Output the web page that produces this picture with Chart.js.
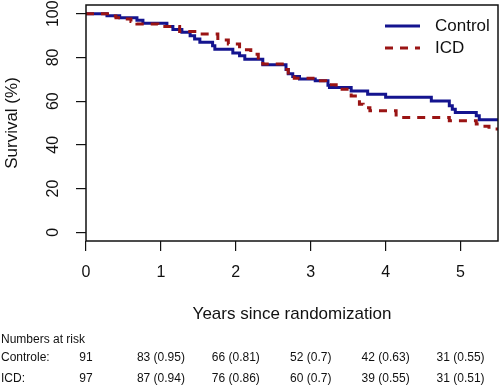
<!DOCTYPE html>
<html>
<head>
<meta charset="utf-8">
<script src="https://cdn.jsdelivr.net/npm/chart.js@4"></script>
<style>
  html, body { margin: 0; padding: 0; background: #fff; }
  #wrap { width: 500px; height: 386px; }
</style>
</head>
<body>
<div id="wrap"><canvas id="km" width="500" height="386"></canvas></div>
<script>
// survival curves, step points (years, survival %)
var controlTimes = [0, 0.28, 0.45, 0.68, 0.76, 1.08, 1.16, 1.28, 1.39, 1.45, 1.52, 1.69, 1.72, 1.96, 2.05, 2.12, 2.36, 2.67, 2.7, 2.76, 2.85, 3.06, 3.23, 3.25, 3.54, 3.76, 4.0, 4.61, 4.85, 4.89, 4.93, 5.21, 5.25, 5.5];
var controlSurv  = [100, 99.1, 98.2, 97, 95.7, 94.2, 92.8, 91.5, 89.9, 88.4, 86.9, 85.4, 83.8, 82, 80.8, 79.2, 76.6, 74.5, 72.5, 71.3, 70.1, 69.3, 67.3, 66.3, 64.7, 63.2, 61.8, 60.1, 57.9, 56.3, 54.8, 53.3, 51.5, 51.5];

var icdTimes = [0, 0.32, 0.4, 0.5, 0.6, 0.68, 0.96, 1.25, 1.52, 1.76, 1.9, 2.05, 2.2, 2.3, 2.36, 2.65, 2.7, 2.78, 3.08, 3.2, 3.34, 3.54, 3.65, 3.7, 3.79, 4.14, 4.85, 5.21, 5.25, 5.38, 5.5];
var icdSurv  = [100, 99, 98.2, 97.6, 96.5, 95.3, 94.2, 91.9, 90.7, 88, 86.2, 83.5, 81.5, 79, 77, 74.5, 72, 70.5, 69.3, 67.5, 65.5, 62.4, 58.6, 57, 55.6, 52.5, 51, 49.5, 48.5, 47.2, 47.2];

var xTicks = [0, 1, 2, 3, 4, 5];
var yTicks = [0, 20, 40, 60, 80, 100];

// numbers at risk table
var riskTimes = [0, 1, 2, 3, 4, 5];
var controlRisk = ['91', '83 (0.95)', '66 (0.81)', '52 (0.7)', '42 (0.63)', '31 (0.55)'];
var icdRisk = ['97', '87 (0.94)', '76 (0.86)', '60 (0.7)', '39 (0.55)', '31 (0.51)'];

var FONT = 'Liberation Sans, Arial, sans-serif';
var BLUE = '#14148f';
var RED = '#9a1414';

function toPoints(xs, ys){
  var pts = [];
  for(var i=0;i<xs.length;i++){
    pts.push({x: xs[i], y: ys[i]});
  }
  return pts;
}

// box around the plot (R style)
var boxPlugin = {
  id: 'box',
  afterDraw: function(chart){
    var a = chart.chartArea, ctx = chart.ctx;
    ctx.save();
    ctx.strokeStyle = '#111';
    ctx.lineWidth = 1.5;
    ctx.strokeRect(a.left, a.top, a.right - a.left, a.bottom - a.top);
    ctx.restore();
  }
};

// legend top right, inside the box
var legendPlugin = {
  id: 'kmLegend',
  afterDraw: function(chart){
    var ctx = chart.ctx;
    var items = [
      {label: 'Control', color: BLUE, dash: []},
      {label: 'ICD', color: RED, dash: [8, 7]}
    ];
    ctx.save();
    ctx.font = '17px ' + FONT;
    ctx.textBaseline = 'middle';
    ctx.textAlign = 'left';
    items.forEach(function(it, i){
      var y = 26 + i*22;
      ctx.strokeStyle = it.color;
      ctx.lineWidth = 3;
      ctx.setLineDash(it.dash);
      ctx.beginPath();
      ctx.moveTo(385, y);
      ctx.lineTo(420, y);
      ctx.stroke();
      ctx.setLineDash([]);
      ctx.fillStyle = '#111';
      ctx.fillText(it.label, 435, y);
    });
    ctx.restore();
  }
};

// numbers at risk under the axis
var riskPlugin = {
  id: 'risk',
  afterDraw: function(chart){
    var ctx = chart.ctx, xs = chart.scales.x;
    ctx.save();
    ctx.font = '12px ' + FONT;
    ctx.fillStyle = '#111';
    ctx.textBaseline = 'middle';
    ctx.textAlign = 'left';
    ctx.fillText('Numbers at risk', 1, 340);
    ctx.fillText('Controle:', 1, 358);
    ctx.fillText('ICD:', 1, 379);
    ctx.textAlign = 'center';
    for(var i=0;i<riskTimes.length;i++){
      var px = xs.getPixelForValue(riskTimes[i]);
      ctx.fillText(controlRisk[i], px, 358);
      ctx.fillText(icdRisk[i], px, 379);
    }
    ctx.restore();
  }
};

var data = {
  datasets: [
    {
      label: 'Control',
      data: toPoints(controlTimes, controlSurv),
      borderColor: BLUE,
      borderWidth: 3,
      stepped: 'before',
      pointRadius: 0,
      fill: false,
      order: 2
    },
    {
      label: 'ICD',
      data: toPoints(icdTimes, icdSurv),
      borderColor: RED,
      borderWidth: 3,
      borderDash: [8, 7],
      stepped: 'before',
      pointRadius: 0,
      fill: false,
      order: 1
    }
  ]
};

var config = {
  type: 'line',
  data: data,
  options: {
    responsive: false,
    animation: false,
    layout: { padding: { top: 5, right: 2, bottom: 0, left: 0 } },
    plugins: {
      legend: { display: false },
      tooltip: { enabled: false }
    },
    scales: {
      x: {
        type: 'linear',
        min: 0,
        max: 5.5,
        afterBuildTicks: function(s){ s.ticks = xTicks.map(function(v){ return {value: v}; }); },
        afterFit: function(s){ s.height = 145; s.paddingLeft = 0; s.paddingRight = 0; },
        grid: { drawOnChartArea: false, drawTicks: true, tickLength: 10, color: '#111', lineWidth: 1.2 },
        border: { display: false },
        ticks: { color: '#111', font: { family: FONT, size: 16 }, padding: 12, maxRotation: 0, autoSkip: false },
        title: {
          display: true,
          text: 'Years since randomization',
          color: '#111',
          font: { family: FONT, size: 17 },
          padding: { top: 0, bottom: 61 }
        }
      },
      y: {
        type: 'linear',
        min: -4,
        max: 104,
        afterBuildTicks: function(s){ s.ticks = yTicks.map(function(v){ return {value: v}; }); },
        afterFit: function(s){ s.width = 86; s.paddingTop = 0; s.paddingBottom = 0; },
        grid: { drawOnChartArea: false, drawTicks: true, tickLength: 10, color: '#111', lineWidth: 1.2 },
        border: { display: false },
        ticks: { color: '#111', font: { family: FONT, size: 16 }, padding: 9, minRotation: 90, maxRotation: 90, crossAlign: 'center', autoSkip: false },
        title: {
          display: true,
          text: 'Survival (%)',
          color: '#111',
          font: { family: FONT, size: 17 },
          padding: { top: 2, bottom: 0 }
        }
      }
    }
  },
  plugins: [boxPlugin, legendPlugin, riskPlugin]
};

var myChart = new Chart(document.getElementById('km'), config);
</script>
</body>
</html>
